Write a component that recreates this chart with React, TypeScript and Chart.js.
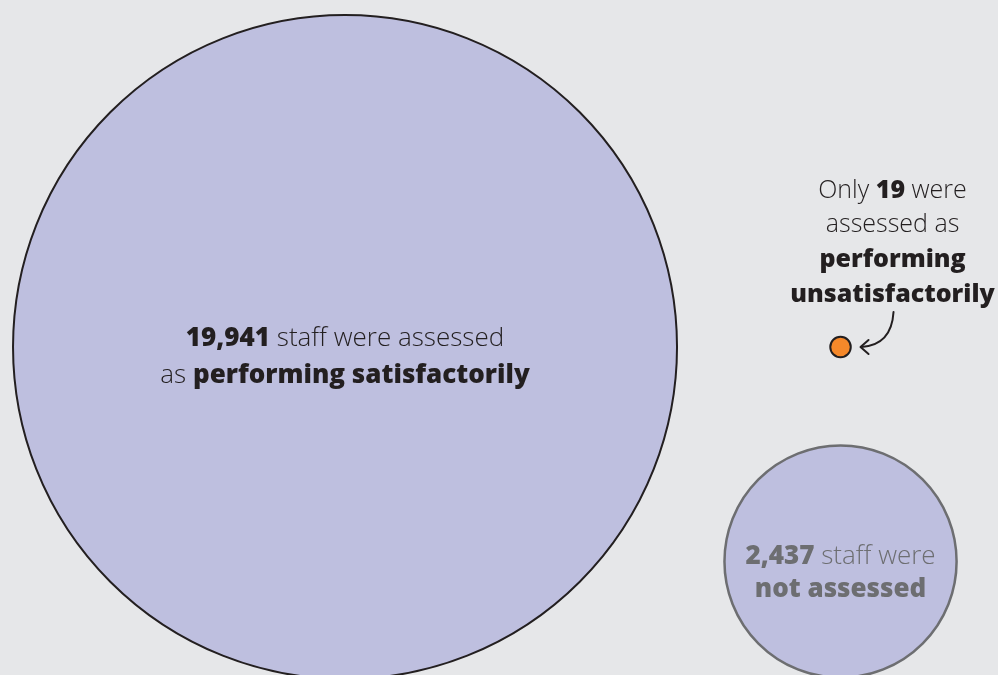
import React, { useEffect, useRef } from "react";
import { Chart, registerables } from "chart.js";

Chart.register(...registerables);

// ---- data ----
const categories = ["Performing satisfactorily", "Performing unsatisfactorily", "Not assessed"];
const staffCounts = [19941, 19, 2437];
const xPositions = [1, 2, 2];
const yPositions = [1, 1, 0];
const fillColors = ["#bebfdf", "#f5882a", "#bebfdf"];
const borderColors = ["#231f20", "#231f20", "#6d6e71"];

// text runs: [text, bold]
const satisfactoryLabel: [string, boolean][][] = [
  [["19,941", true], [" staff were assessed", false]],
  [["as ", false], ["performing satisfactorily", true]],
];
const notAssessedLabel: [string, boolean][][] = [
  [["2,437", true], [" staff were", false]],
  [["not assessed", true]],
];
const unsatisfactoryLabel: [string, boolean][][] = [
  [["Only ", false], ["19", true], [" were", false]],
  [["assessed as", false]],
  [["performing", true]],
  [["unsatisfactorily", true]],
];

const MAX_RADIUS = 332;
const FONT = "'Open Sans', Lato, sans-serif";

function drawRuns(
  ctx: CanvasRenderingContext2D,
  runs: [string, boolean][],
  cx: number,
  baseline: number,
  size: number,
  color: string
) {
  const fontFor = (b: boolean) => `${b ? 800 : 300} ${size}px ${FONT}`;
  let total = 0;
  const widths = runs.map(([t, b]) => {
    ctx.font = fontFor(b);
    const w = ctx.measureText(t).width;
    total += w;
    return w;
  });
  let x = cx - total / 2;
  ctx.fillStyle = color;
  ctx.textBaseline = "alphabetic";
  ctx.textAlign = "left";
  runs.forEach(([t, b], i) => {
    ctx.font = fontFor(b);
    ctx.fillText(t, x, baseline);
    x += widths[i];
  });
}

const labelPlugin = {
  id: "labels",
  afterDatasetsDraw(chart: any) {
    const ctx: CanvasRenderingContext2D = chart.ctx;
    const meta = chart.getDatasetMeta(0);
    const big = meta.data[0];
    const dot = meta.data[1];
    const small = meta.data[2];
    ctx.save();
    // big circle label
    drawRuns(ctx, satisfactoryLabel[0], big.x, big.y - 1, 26, "#231f20");
    drawRuns(ctx, satisfactoryLabel[1], big.x, big.y + 36, 26, "#231f20");
    // small circle label
    drawRuns(ctx, notAssessedLabel[0], small.x, small.y + 2, 26, "#6d6e71");
    drawRuns(ctx, notAssessedLabel[1], small.x, small.y + 35, 26, "#6d6e71");
    // annotation
    const ax = dot.x + 52;
    const bases = [-149, -115, -80, -45];
    unsatisfactoryLabel.forEach((line, i) => {
      drawRuns(ctx, line, ax, dot.y + bases[i], 25, "#231f20");
    });
    // arrow
    ctx.strokeStyle = "#231f20";
    ctx.lineWidth = 2;
    ctx.lineCap = "round";
    ctx.lineJoin = "round";
    ctx.beginPath();
    ctx.moveTo(dot.x + 53, dot.y - 35);
    ctx.quadraticCurveTo(dot.x + 51, dot.y - 2, dot.x + 21, dot.y);
    ctx.stroke();
    ctx.beginPath();
    ctx.moveTo(dot.x + 28, dot.y - 7);
    ctx.lineTo(dot.x + 20, dot.y);
    ctx.lineTo(dot.x + 28, dot.y + 7);
    ctx.stroke();
    ctx.restore();
  },
};

export default function App() {
  const ref = useRef<HTMLCanvasElement | null>(null);
  useEffect(() => {
    if (!ref.current) return;
    const maxVal = Math.max(...staffCounts);
    const chart = new Chart(ref.current, {
      type: "bubble",
      data: {
        datasets: [
          {
            label: "Staff",
            data: staffCounts.map((v, i) => ({
              x: xPositions[i],
              y: yPositions[i],
              r: MAX_RADIUS * Math.sqrt(v / maxVal),
            })),
            backgroundColor: fillColors,
            borderColor: borderColors,
            borderWidth: [2, 2, 2.5],
            hoverRadius: 0,
            clip: false,
          } as any,
        ],
        labels: categories,
      },
      options: {
        animation: false,
        responsive: false,
        devicePixelRatio: 1,
        layout: { padding: 0, autoPadding: false },
        plugins: { legend: { display: false }, tooltip: { enabled: false } },
        events: [],
        scales: {
          x: { type: "linear", display: false, min: 0.3037, max: 2.3178 },
          y: { type: "linear", display: false, min: -0.5291, max: 2.6177 },
        },
      },
      plugins: [labelPlugin],
    });
    return () => chart.destroy();
  }, []);
  return (
    <div
      style={{
        position: "fixed",
        left: 0,
        top: 0,
        width: 998,
        height: 675,
        background: "#e6e7e9",
        overflow: "hidden",
      }}
    >
      <canvas ref={ref} width={998} height={675} style={{ width: 998, height: 675, display: "block" }} />
    </div>
  );
}
